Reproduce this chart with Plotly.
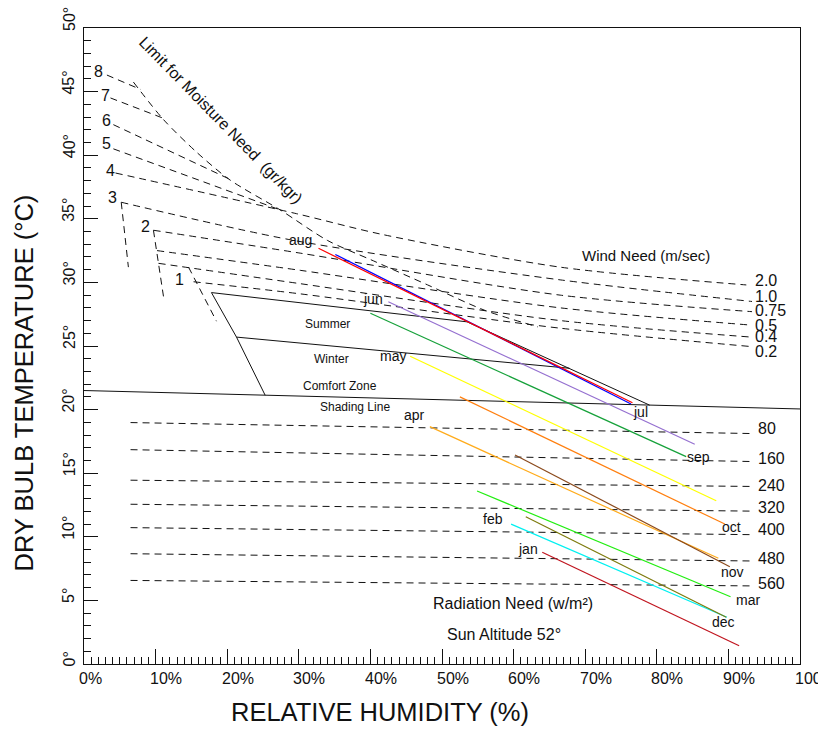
import plotly.graph_objects as go

FONT = "Liberation Sans, Arial, sans-serif"
INK = "#111111"

# ---- axes -------------------------------------------------------------
x_tick_values = list(range(0, 101, 10))
x_tick_text = [f"{v}%" for v in x_tick_values]
y_tick_values = list(range(0, 51, 5))
y_tick_text = [f"{v}°" for v in y_tick_values]

# ---- monthly climate lines (relative humidity %, dry bulb °C) ----------
months = ["jan", "feb", "mar", "apr", "may", "jun",
          "jul", "aug", "sep", "oct", "nov", "dec"]
month_colors = ["#c0141e", "#00f0f0", "#22ee11", "#ffab1a", "#ffff00", "#9570d0",
                "#0000ff", "#ff0000", "#16a13a", "#ff7f0e", "#8b4a1c", "#7d7a0c"]
month_rh_start = [64.0, 59.65, 54.9, 48.3, 45.55, 42.5, 35.1, 32.75, 40.0, 52.5, 60.2, 61.7]
month_t_start = [8.78, 11.0, 13.6, 18.66, 24.2, 28.48, 32.2, 32.68, 27.57, 21.0, 16.43, 11.58]
month_rh_end = [91.5, 89.8, 90.3, 88.6, 88.3, 85.3, 76.4, 76.6, 84.1, 89.5, 90.2, 89.7]
month_t_end = [1.44, 3.67, 5.29, 8.31, 12.84, 17.27, 20.44, 20.54, 16.3, 11.0, 7.65, 3.67]

# which end of each month line carries its name, and the label offset in px
month_label_end = ["start", "start", "end", "start", "start", "start",
                   "end", "start", "end", "end", "end", "end"]
month_label_shift = [(-14, 3), (-18, 5), (17, -3), (-15, 12), (-17, 0), (-15, 3),
                     (9, -8), (-18, 8), (12, 0), (7, -3), (3, -5), (-3, -5)]

# ---- wind need curves (m/sec) -----------------------------------------
wind_labels = ["2.0", "1.0", "0.75", "0.5", "0.4", "0.2"]
wind_rh = [
    [4.4, 29.7, 41.4, 66.5, 92.5],
    [5.2, 29.3, 66.5, 93.3],
    [9.7, 30.2, 66.5, 93.3],
    [10.2, 30.2, 66.5, 93.0],
    [10.4, 30.2, 66.5, 93.2],
    [15.3, 30.2, 66.5, 93.3],
]
wind_t = [
    [38.6, 35.4, 33.8, 31.2, 29.8],
    [36.3, 33.3, 30.2, 28.5],
    [34.1, 32.3, 29.0, 27.7],
    [32.5, 30.95, 28.0, 26.65],
    [31.5, 29.9, 27.0, 25.7],
    [30.05, 29.1, 26.4, 24.95],
]
wind_label_t = [30.13, 28.88, 27.83, 26.65, 25.73, 24.55]

# ---- moisture need (gr/kgr) -------------------------------------------
moisture_labels = ["8", "7", "6", "5", "4", "3", "2", "1"]
moisture_label_rh = [2.04, 2.97, 3.1, 3.1, 3.67, 4.0, 8.65, 13.35]
moisture_label_t = [46.6, 44.73, 42.7, 40.9, 38.8, 36.66, 34.43, 30.24]

moisture_rh = [[3.2, 7.86], [3.7, 11.1], [4.1, 20.4], [4.1, 27.4]]
moisture_t = [[46.3, 45.18], [44.5, 42.9], [42.4, 38.1], [40.5, 35.7]]

moisture_drop_rh = [[5.2, 6.2], [9.7, 11.1], [14.6, 18.5]]
moisture_drop_t = [[36.3, 31.2], [34.1, 28.9], [31.2, 26.95]]

limit_rh = [6.9, 11.1, 15.8, 20.4, 27.4, 34.0, 40.4, 48.0, 56.0, 63.4]
limit_t = [45.75, 42.8, 40.2, 38.05, 35.7, 33.3, 31.7, 29.8, 27.8, 26.5]

# ---- radiation need (w/m²) --------------------------------------------
radiation_labels = ["80", "160", "240", "320", "400", "480", "560"]
radiation_rh = [6.5, 93.0]
radiation_t = [
    [18.98, 18.12],
    [16.85, 15.92],
    [14.45, 13.96],
    [12.56, 12.02],
    [10.72, 10.17],
    [8.67, 8.10],
    [6.57, 6.14],
]
radiation_label_t = [18.53, 16.12, 14.05, 12.32, 10.61, 8.31, 6.29]

# ---- comfort zone outline and shading line ----------------------------
comfort_rh = [53.5, 17.8, 21.3, 25.3]
comfort_t = [26.9, 29.2, 25.7, 21.13]
comfort_edge_rh = [53.5, 79.0]
comfort_edge_t = [26.9, 20.35]
winter_rh = [21.3, 67.8]
winter_t = [25.7, 23.25]
shading_rh = [0, 100]
shading_t = [21.5, 20.05]

fig = go.Figure()


def add_line(xs, ys, color=INK, width=1.0, dash=None, spline=False):
    fig.add_trace(go.Scatter(
        x=xs, y=ys, mode="lines",
        line=dict(color=color, width=width, dash=dash,
                  shape="spline" if spline else "linear", smoothing=0.8),
        hoverinfo="skip", showlegend=False,
    ))


DASH = "7px,5px"

# radiation need lines
for ts in radiation_t:
    add_line(radiation_rh, ts, dash=DASH)

# moisture need lines ending at the limit curve
for xs, ys in zip(moisture_rh, moisture_t):
    add_line(xs, ys, dash=DASH)
for xs, ys in zip(moisture_drop_rh, moisture_drop_t):
    add_line(xs, ys, dash=DASH)
add_line(limit_rh, limit_t, dash=DASH, spline=True)

# wind need curves
for xs, ys in zip(wind_rh, wind_t):
    add_line(xs, ys, dash=DASH, spline=True)

# comfort zone
add_line(shading_rh, shading_t)
add_line(comfort_rh, comfort_t)
add_line(comfort_edge_rh, comfort_edge_t)
add_line(winter_rh, winter_t)

# monthly lines
for i in range(len(months)):
    add_line([month_rh_start[i], month_rh_end[i]],
             [month_t_start[i], month_t_end[i]],
             color=month_colors[i], width=1.2)

annotations = []


def note(text, x, y, size, xref="x", yref="y", xanchor="center", yanchor="middle",
         xshift=0, yshift=0, angle=0):
    annotations.append(dict(
        text=text, x=x, y=y, xref=xref, yref=yref, showarrow=False,
        xanchor=xanchor, yanchor=yanchor, xshift=xshift, yshift=yshift,
        textangle=angle, font=dict(family=FONT, size=size, color=INK),
    ))


for i, name in enumerate(months):
    if month_label_end[i] == "start":
        px, py = month_rh_start[i], month_t_start[i]
    else:
        px, py = month_rh_end[i], month_t_end[i]
    dx, dy = month_label_shift[i]
    note(name, px, py, 14, xshift=dx, yshift=dy)

for lab, t in zip(wind_labels, wind_label_t):
    note(lab, 93.4, t, 16, xanchor="left")
for lab, t in zip(radiation_labels, radiation_label_t):
    note(lab, 93.9, t, 16, xanchor="left")
for lab, x, y in zip(moisture_labels, moisture_label_rh, moisture_label_t):
    note(lab, x, y, 16)

note("Summer", 34.06, 26.73, 12)
note("Winter", 34.5, 23.95, 12)
note("Comfort Zone", 35.7, 21.86, 12)
note("Shading Line", 37.9, 20.23, 12)
note("Wind Need (m/sec)", 78.5, 32.15, 15)
note("Radiation Need (w/m²)", 59.98, 4.72, 16)
note("Sun Altitude 52°", 58.6, 2.33, 16)
note("Limit for Moisture Need\u00a0\u00a0(gr/kgr)", 19.16, 42.76, 16, angle=45.7)

# tick labels
for v, lab in zip(x_tick_values, x_tick_text):
    note(lab, v, 0, 16, yref="paper", xanchor="left", yanchor="middle",
         xshift=-7.5, yshift=-14)
for v, lab in zip(y_tick_values, y_tick_text):
    note(lab, 0, v, 16, xref="paper", xanchor="center", yanchor="bottom",
         xshift=-15, yshift=-5, angle=-90)

# axis titles
note("DRY BULB TEMPERATURE (°C)", -0.0845, 0.442, 25.5, xref="paper", yref="paper",
     angle=-90)
note("RELATIVE HUMIDITY (%)", 0.413, -0.075, 25.5, xref="paper", yref="paper")

axis_common = dict(
    showgrid=False, zeroline=False, showline=True, linecolor=INK, linewidth=1,
    mirror=True, ticks="inside", tickcolor=INK, tickwidth=1,
    showticklabels=False, fixedrange=True,
)

fig.update_layout(
    width=818, height=742,
    margin=dict(l=84, r=18, t=28, b=78),
    paper_bgcolor="white", plot_bgcolor="white",
    font=dict(family=FONT, color=INK),
    hovermode=False,
    showlegend=False,
    annotations=annotations,
    xaxis=dict(range=[0, 100], tickvals=x_tick_values, ticklen=15,
               minor=dict(dtick=1, ticks="inside", ticklen=7, tickcolor=INK),
               **axis_common),
    yaxis=dict(range=[0, 50], tickvals=y_tick_values, ticklen=14,
               minor=dict(dtick=1, ticks="inside", ticklen=7, tickcolor=INK),
               **axis_common),
)

fig.write_html("out.html")
